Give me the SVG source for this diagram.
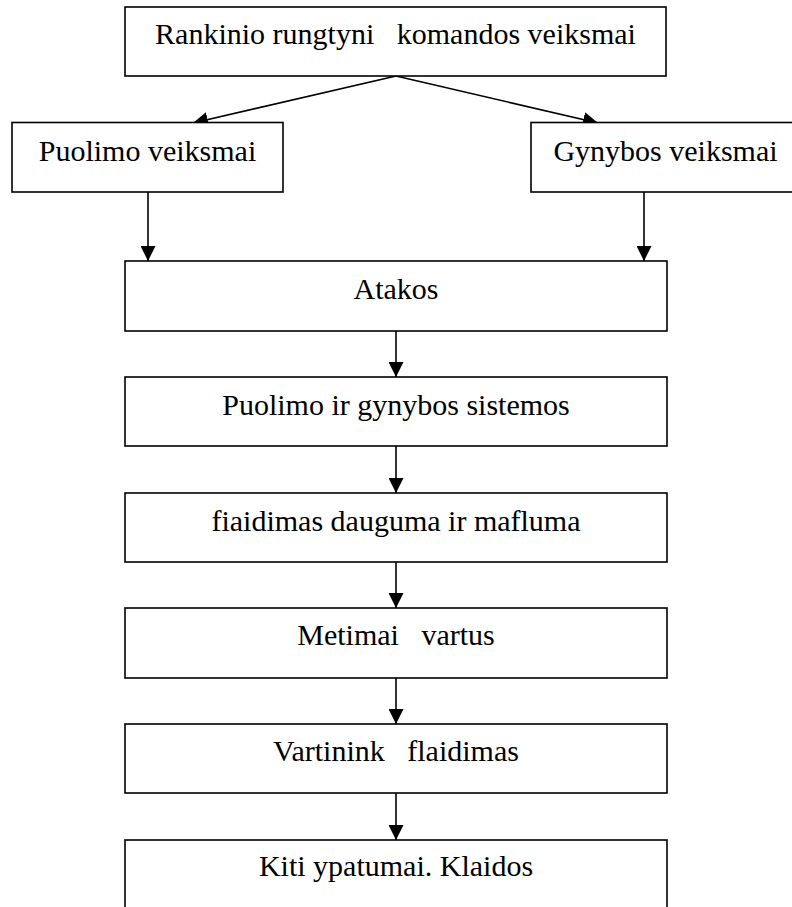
<svg xmlns="http://www.w3.org/2000/svg" width="792" height="907" viewBox="0 0 792 907">
<style>
.box{fill:#fff;stroke:#000;stroke-width:1.6}
.t{font-family:"Liberation Serif","Times New Roman",serif;font-size:30px;fill:#000;text-anchor:middle;white-space:pre}
.c{stroke:#000;stroke-width:1.6;fill:none;marker-end:url(#ah)}
</style>
<defs>
<marker id="ah" markerUnits="userSpaceOnUse" markerWidth="15" markerHeight="15" refX="15" refY="7.5" orient="auto">
<path d="M0,0 L15,7.5 L0,15 z" fill="#000"/>
</marker>
</defs>
<rect width="792" height="907" fill="#fff"/>
<g id="connectors">
<line class="c" x1="396" y1="76" x2="193" y2="123"/>
<line class="c" x1="396" y1="76" x2="598" y2="123"/>
<line class="c" x1="148" y1="192" x2="148" y2="261"/>
<line class="c" x1="644" y1="192" x2="644" y2="261"/>
<line class="c" x1="396" y1="331" x2="396" y2="377"/>
<line class="c" x1="396" y1="446" x2="396" y2="493"/>
<line class="c" x1="396" y1="562" x2="396" y2="608"/>
<line class="c" x1="396" y1="678" x2="396" y2="724"/>
<line class="c" x1="396" y1="793" x2="396" y2="840"/>
</g>
<g id="n-top">
<rect class="box" x="125" y="7" width="541" height="69"/>
<text class="t" x="395.5" y="44" xml:space="preserve">Rankinio rungtyni   komandos veiksmai</text>
</g>
<g id="n-puolimo">
<rect class="box" x="12" y="122.5" width="271" height="69.5"/>
<text class="t" x="147.5" y="160.5">Puolimo veiksmai</text>
</g>
<g id="n-gynybos">
<rect class="box" x="531" y="122.5" width="270" height="69.5"/>
<text class="t" x="665.5" y="160.5">Gynybos veiksmai</text>
</g>
<g id="n-atakos">
<rect class="box" x="125" y="261" width="542" height="70"/>
<text class="t" x="396" y="298.5">Atakos</text>
</g>
<g id="n-sistemos">
<rect class="box" x="125" y="377" width="542" height="69"/>
<text class="t" x="396" y="415">Puolimo ir gynybos sistemos</text>
</g>
<g id="n-zaidimas">
<rect class="box" x="125" y="493" width="542" height="69"/>
<text class="t" x="396" y="530.5">fiaidimas dauguma ir mafluma</text>
</g>
<g id="n-metimai">
<rect class="box" x="125" y="608" width="542" height="70"/>
<text class="t" x="396" y="645" xml:space="preserve">Metimai   vartus</text>
</g>
<g id="n-vartininku">
<rect class="box" x="125" y="724" width="542" height="69"/>
<text class="t" x="396" y="761" xml:space="preserve">Vartinink   flaidimas</text>
</g>
<g id="n-kiti">
<rect class="box" x="125" y="840" width="542" height="80"/>
<text class="t" x="396" y="876">Kiti ypatumai. Klaidos</text>
</g>
</svg>
